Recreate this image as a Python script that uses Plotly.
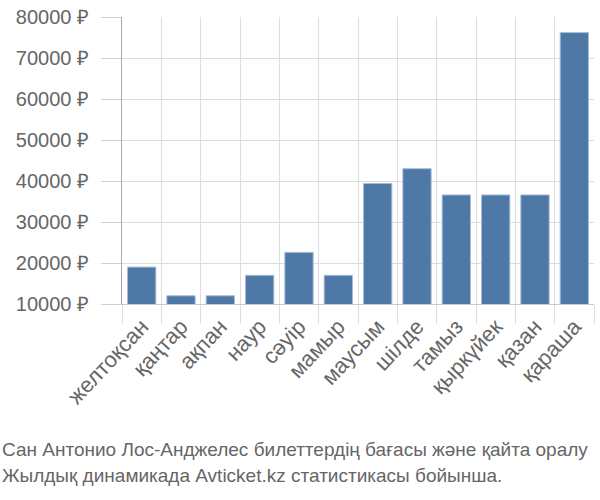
import plotly.graph_objects as go

months = ["желтоқсан", "қаңтар", "ақпан", "наур", "сәуір", "мамыр",
          "маусым", "шілде", "тамыз", "қыркүйек", "қазан", "қараша"]
prices = [19000, 12000, 12000, 17000, 22600, 17000,
          39400, 43000, 36600, 36600, 36600, 76200]
ytick_vals = [10000, 20000, 30000, 40000, 50000, 60000, 70000, 80000]
ytick_text = [f"{v} ₽" for v in ytick_vals]
caption1 = "Сан Антонио Лос-Анджелес билеттердің бағасы және қайта оралу"
caption2 = "Жылдық динамикада Avticket.kz статистикасы бойынша."

fig = go.Figure(go.Bar(
    x=months, y=prices,
    marker=dict(color="#4e79a7", line=dict(color="#a9bdd6", width=1)),
))
fig.update_traces(width=0.72)

fig.update_layout(
    width=600, height=500,
    margin=dict(l=122, r=6, t=14, b=196),
    paper_bgcolor="white", plot_bgcolor="white",
    showlegend=False,
    font=dict(family="Liberation Sans, Arial, sans-serif", color="#666666"),
)
fig.update_xaxes(
    type="category", tickson="boundaries", showgrid=True, gridcolor="#dddddd",
    gridwidth=1, ticks="outside", ticklen=19, tickcolor="#dddddd",
    tickangle=-47, tickfont=dict(size=22, color="#666666"),
    showline=True, linecolor="#cccccc", linewidth=1,
)
fig.update_yaxes(
    range=[10000, 80000], tickvals=ytick_vals, ticktext=ytick_text,
    showgrid=True, gridcolor="#dddddd", gridwidth=1,
    ticks="outside", ticklen=20, tickcolor="#d0d0d0", ticklabelstandoff=8,
    tickfont=dict(size=20, color="#666666"),
    showline=True, linecolor="#aaaaaa", linewidth=1, zeroline=False,
)
fig.add_annotation(text=caption1, xref="paper", yref="paper", x=-122/472, y=-147/290,
                   xanchor="left", yanchor="middle", showarrow=False,
                   font=dict(family="Liberation Sans, sans-serif", size=19, color="#666666"))
fig.add_annotation(text=caption2, xref="paper", yref="paper", x=-122/472, y=-173/290,
                   xanchor="left", yanchor="middle", showarrow=False,
                   font=dict(family="Liberation Sans, sans-serif", size=19, color="#666666"))
fig.write_html("out.html")
